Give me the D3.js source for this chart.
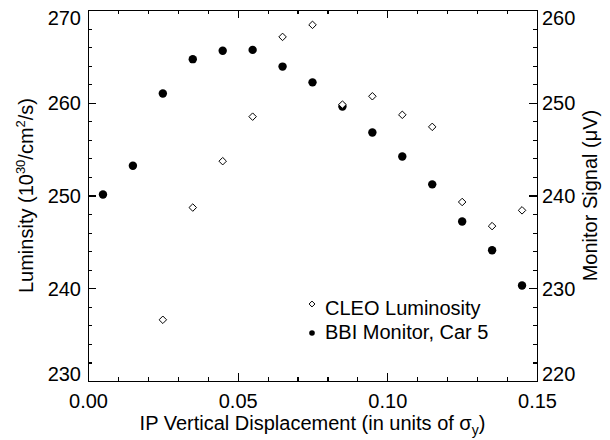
<!DOCTYPE html>
<html>
<head>
<meta charset="utf-8">
<script src="https://cdn.jsdelivr.net/npm/d3@7"></script>
<style>
  body { margin: 0; background: #fff; }
  svg text { font-family: "Liberation Sans", Arial, Helvetica, sans-serif; fill: #000; }
  .axis path, .axis line { stroke: #000; stroke-width: 1.1; shape-rendering: crispEdges; }
</style>
</head>
<body>
<svg id="chart" width="610" height="440"></svg>
<script>
// displacement in units of sigma_y
const displacement = [0.005, 0.015, 0.025, 0.035, 0.045, 0.055, 0.065, 0.075,
                      0.085, 0.095, 0.105, 0.115, 0.125, 0.135, 0.145];

// CLEO luminosity (left axis), missing where no point drawn
const cleoLumi = [null, null, 236.6, 248.7, 253.7, 258.5, 267.1, 268.4,
                  259.8, 260.7, 258.7, 257.4, 249.3, 246.7, 248.4];

// BBI monitor signal, car 5 (right axis, uV)
const bbiSignal = [240.1, 243.2, 251.0, 254.7, 255.6, 255.7, 253.9, 252.2,
                   249.6, 246.8, 244.2, 241.2, 237.2, 234.1, 230.3];

const xTicks = [0, 0.05, 0.10, 0.15];
const leftTicks = [230, 240, 250, 260, 270];
const rightTicks = [220, 230, 240, 250, 260];

const legendItems = ['CLEO Luminosity', 'BBI Monitor, Car 5'];

const margin = {left: 88, right: 73, top: 10, bottom: 59};
const W = 610, H = 440;
const svg = d3.select('#chart');

const x = d3.scaleLinear().domain([0, 0.15]).range([margin.left, W - margin.right]);
const yL = d3.scaleLinear().domain([230, 270]).range([H - margin.bottom, margin.top]);
const yR = d3.scaleLinear().domain([220, 260]).range([H - margin.bottom, margin.top]);

const fmt2 = d3.format('.2f');
const minorX = d3.range(0, 0.1501, 0.01);
const minorL = d3.range(230, 270.1, 2);
const minorR = d3.range(220, 260.1, 2);

function drawAxis(axis, tx, ty, major, minor, fmt) {
  // minor ticks first, then the labelled major ticks on top
  svg.append('g')
    .attr('class', 'axis')
    .attr('transform', 'translate(' + tx + ',' + ty + ')')
    .call(axis(minor).tickFormat('').tickSize(-4).tickSizeOuter(0));
  let g = svg.append('g')
    .attr('class', 'axis')
    .attr('transform', 'translate(' + tx + ',' + ty + ')')
    .call(axis(major).tickFormat(fmt).tickSize(-8).tickSizeOuter(0).tickPadding(7));
  g.selectAll('text').style('font-size', '20px');
  return g;
}

function keepInside(g) {
  // end labels are pushed inside the plot height, like the original
  let n = g.selectAll('text').size();
  g.selectAll('text').attr('dy', (d, i) => i === 0 ? '-0.05em' : i === n - 1 ? '0.72em' : '0.34em');
}

let bottom = drawAxis(v => d3.axisBottom(x).tickValues(v), 0, H - margin.bottom, xTicks, minorX, fmt2);
bottom.selectAll('text').attr('dy', '0.95em').attr('y', 8);
drawAxis(v => d3.axisTop(x).tickValues(v), 0, margin.top, xTicks, minorX, '');
keepInside(drawAxis(v => d3.axisLeft(yL).tickValues(v), margin.left, 0, leftTicks, minorL, d3.format('d')));
let right = drawAxis(v => d3.axisRight(yR).tickValues(v), W - margin.right, 0, rightTicks, minorR, d3.format('d'));
right.selectAll('text').attr('x', 5);
keepInside(right);

// axis titles
svg.append('text')
  .attr('x', (margin.left + W - margin.right) / 2)
  .attr('y', 430)
  .attr('text-anchor', 'middle')
  .style('font-size', '20px')
  .html('IP Vertical Displacement (in units of σ<tspan dy="5" font-size="14px">y</tspan><tspan dy="-5">)</tspan>');

svg.append('text')
  .attr('transform', 'translate(33,' + ((margin.top + H - margin.bottom) / 2) + ') rotate(-90)')
  .attr('text-anchor', 'middle')
  .style('font-size', '20px')
  .html('Luminsity (10<tspan dy="-8" font-size="13px">30</tspan><tspan dy="8">/cm</tspan><tspan dy="-8" font-size="13px">2</tspan><tspan dy="8">/s)</tspan>');

svg.append('text')
  .attr('transform', 'translate(597,' + ((margin.top + H - margin.bottom) / 2) + ') rotate(-90)')
  .attr('text-anchor', 'middle')
  .style('font-size', '20px')
  .text('Monitor Signal (μV)');

// data
const diamond = d3.symbol().type(d3.symbolDiamond2).size(36);

svg.append('g').selectAll('circle')
  .data(displacement.map((d, i) => [d, bbiSignal[i]]))
  .enter().append('circle')
  .attr('cx', d => x(d[0]))
  .attr('cy', d => yR(d[1]))
  .attr('r', 4.2)
  .attr('fill', '#000');

svg.append('g').selectAll('path')
  .data(displacement.map((d, i) => [d, cleoLumi[i]]).filter(d => d[1] != null))
  .enter().append('path')
  .attr('d', diamond)
  .attr('transform', d => 'translate(' + x(d[0]) + ',' + yL(d[1]) + ')')
  .attr('fill', '#fff')
  .attr('stroke', '#000')
  .attr('stroke-width', 1);

// legend
const legend = svg.append('g').attr('transform', 'translate(312,304)');
legend.append('path').attr('d', d3.symbol().type(d3.symbolDiamond2).size(22))
  .attr('fill', '#fff').attr('stroke', '#000').attr('stroke-width', 1);
legend.append('circle').attr('cy', 29).attr('r', 2.8).attr('fill', '#000');
legend.selectAll('text').data(legendItems).enter().append('text')
  .attr('x', 13)
  .attr('y', (d, i) => i * 24 + 11)
  .style('font-size', '20px')
  .text(d => d);
</script>
</body>
</html>
